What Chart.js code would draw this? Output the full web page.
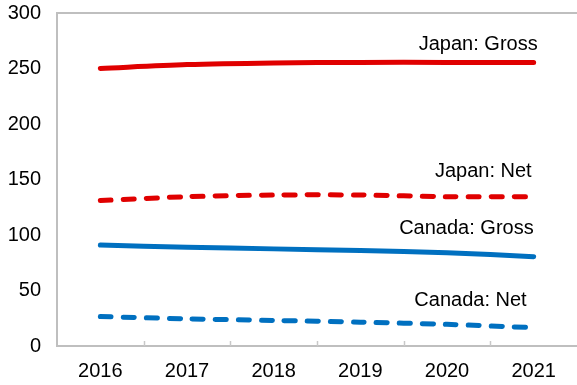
<!DOCTYPE html>
<html>
<head>
<meta charset="utf-8">
<script src="https://cdn.jsdelivr.net/npm/chart.js@4/dist/chart.umd.min.js"></script>
<style>
  html, body { margin: 0; padding: 0; background: #fff; }
  #wrap { width: 577px; height: 385px; position: relative; }
</style>
</head>
<body>
<div id="wrap"><canvas id="c"></canvas></div>
<script>
// Years on the horizontal axis
const years = ['2016', '2017', '2018', '2019', '2020', '2021'];

// Series values
const japanGross  = [250, 253.5, 255, 255.5, 255.5, 255.5];
const japanNet    = [131, 134.5, 136, 136, 134.5, 134.5];
const canadaGross = [91, 89, 87.5, 86, 84, 80.5];
const canadaNet   = [26.5, 24.5, 23, 21.5, 19.5, 16.5];

// Series names written next to the line ends
const seriesNames = ['Japan: Gross', 'Japan: Net', 'Canada: Gross', 'Canada: Net'];

const RED = '#E00000';
const BLUE = '#0070C0';
const AXIS = '#BFBFBF';
const FONT = "'Liberation Sans', Arial, sans-serif";

// Per-series label placement relative to the last point (pixels)
const labelOffsets = [
  { dx: 4, dy: -18 },
  { dx: -2, dy: -25 },
  { dx: 0, dy: -28 },
  { dx: -7, dy: -27 }
];

const frame = {
  id: 'frame',
  afterDatasetsDraw(chart) {
    const { ctx, chartArea: a, scales: { x } } = chart;
    ctx.save();
    // top border
    ctx.strokeStyle = AXIS;
    ctx.lineWidth = 2;
    ctx.beginPath();
    ctx.moveTo(a.left - 1, a.top);
    ctx.lineTo(a.right, a.top);
    ctx.stroke();
    // small upward tick marks between categories
    ctx.lineWidth = 1.5;
    ctx.strokeStyle = '#C8C8C8';
    for (let i = 0; i < years.length - 1; i++) {
      const px = Math.round((x.getPixelForValue(i) + x.getPixelForValue(i + 1)) / 2) + 0.5;
      ctx.beginPath();
      ctx.moveTo(px, a.bottom);
      ctx.lineTo(px, a.bottom - 5);
      ctx.stroke();
    }
    // series labels
    ctx.font = '20px ' + FONT;
    ctx.fillStyle = '#000';
    ctx.textAlign = 'right';
    ctx.textBaseline = 'middle';
    chart.data.datasets.forEach((ds, i) => {
      const meta = chart.getDatasetMeta(i);
      const last = meta.data[meta.data.length - 1];
      ctx.fillText(seriesNames[i], last.x + labelOffsets[i].dx, last.y + labelOffsets[i].dy);
    });
    ctx.restore();
  }
};

const mk = (data, color, dashed) => ({
  data,
  borderColor: color,
  backgroundColor: color,
  borderWidth: 5,
  borderCapStyle: 'round',
  borderJoinStyle: 'round',
  borderDash: dashed ? [11, 12] : [],
  pointRadius: 0,
  tension: 0.3,
  fill: false
});

new Chart(document.getElementById('c'), {
  type: 'line',
  data: {
    labels: years,
    datasets: [
      mk(japanGross, RED, false),
      mk(japanNet, RED, true),
      mk(canadaGross, BLUE, false),
      mk(canadaNet, BLUE, true)
    ]
  },
  options: {
    responsive: true,
    maintainAspectRatio: false,
    animation: false,
    layout: { padding: { top: 13, right: 0, left: 0, bottom: 0 } },
    plugins: { legend: { display: false }, tooltip: { enabled: false } },
    scales: {
      x: {
        offset: true,
        grid: { display: false, drawTicks: false },
        border: { display: true, color: AXIS, width: 2 },
        ticks: { color: '#000', font: { family: FONT, size: 20 }, padding: 13, maxRotation: 0 },
        afterFit(s) { s.height = 39; }
      },
      y: {
        min: 0,
        max: 300,
        grid: { display: false, drawTicks: false },
        border: { display: true, color: AXIS, width: 2 },
        ticks: { stepSize: 50, color: '#000', font: { family: FONT, size: 20 }, padding: 16 },
        afterFit(s) { s.width = 57; s.paddingTop = 0; s.paddingBottom = 0; }
      }
    }
  },
  plugins: [frame]
});
</script>
</body>
</html>
